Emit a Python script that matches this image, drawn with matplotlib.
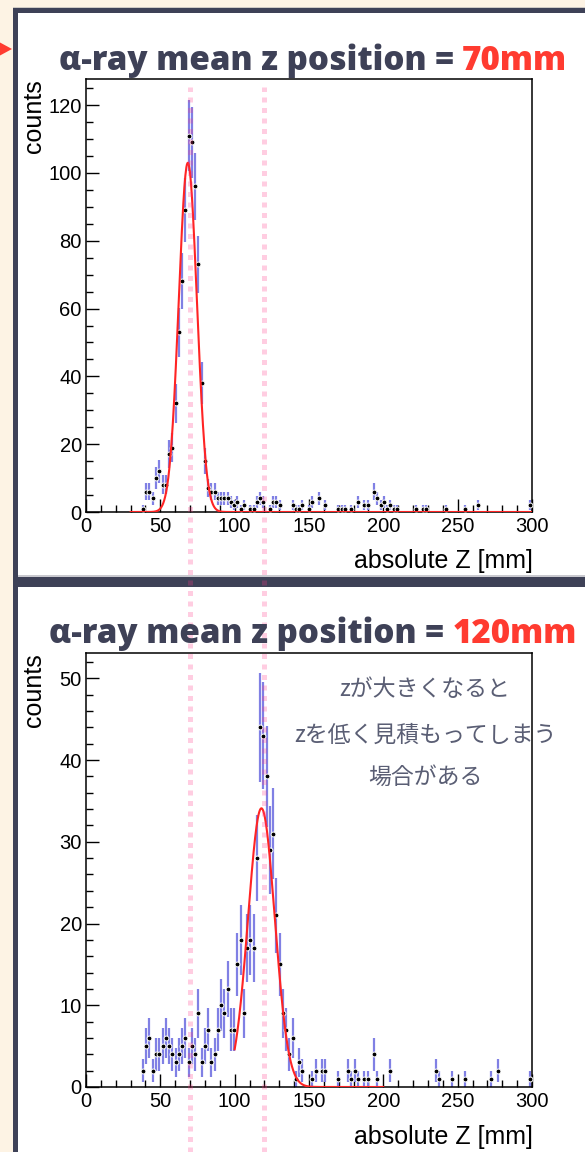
import numpy as np
import matplotlib
matplotlib.use("Agg")
import matplotlib.pyplot as plt
from matplotlib.patches import Rectangle, Polygon
from matplotlib.lines import Line2D
from matplotlib.ticker import MultipleLocator
from matplotlib import transforms

# ---------------------------------------------------------------- data
# histogram binning of the reconstructed |z| (mm)
z_min, z_max, n_bins = 0.0, 300.0, 137

# counts per bin, source at z = 70 mm
counts_70 = [
    0, 0, 0, 0, 0, 0, 0, 0, 0, 0,
    0, 0, 0, 0, 0, 0, 0, 1, 6, 6,
    4, 10, 12, 8, 8, 17, 19, 32, 53, 68,
    89, 111, 109, 96, 73, 38, 15, 7, 6, 6,
    4, 4, 4, 4, 3, 2, 3, 1, 2, 0,
    1, 1, 3, 4, 3, 0, 1, 3, 3, 2,
    0, 0, 0, 2, 1, 1, 2, 0, 1, 3,
    0, 4, 0, 2, 0, 0, 0, 1, 1, 1,
    0, 1, 0, 3, 0, 2, 2, 0, 6, 4,
    2, 3, 1, 2, 1, 1, 0, 0, 0, 0,
    0, 1, 0, 1, 1, 0, 0, 0, 0, 0,
    1, 0, 0, 0, 0, 0, 1, 0, 0, 0,
    2, 0, 0, 0, 0, 0, 0, 0, 0, 0,
    0, 0, 0, 0, 0, 0, 2,
]

# counts per bin, source at z = 120 mm
counts_120 = [
    0, 0, 0, 0, 0, 0, 0, 0, 0, 0,
    0, 0, 0, 0, 0, 0, 0, 2, 5, 6,
    2, 4, 4, 5, 6, 5, 4, 3, 4, 5,
    6, 3, 5, 4, 9, 3, 5, 7, 3, 4,
    7, 10, 9, 12, 7, 7, 15, 18, 9, 17,
    18, 17, 28, 44, 43, 38, 29, 31, 21, 15,
    9, 7, 4, 6, 1, 3, 2, 0, 0, 1,
    2, 0, 2, 2, 0, 0, 0, 1, 0, 0,
    2, 1, 2, 1, 0, 1, 1, 0, 4, 1,
    0, 0, 0, 2, 0, 0, 0, 0, 0, 0,
    0, 0, 0, 0, 0, 0, 0, 2, 1, 0,
    0, 0, 1, 0, 0, 0, 1, 0, 0, 0,
    0, 0, 0, 0, 1, 0, 2, 0, 0, 0,
    0, 0, 0, 0, 0, 0, 1,
]

# gaussian fits: amplitude, mean, sigma, fit range
fit_70 = (103.0, 68.5, 6.1, 30.0, 300.0)
fit_120 = (34.1, 118.0, 9.0, 100.0, 200.0)

# true source positions (mm)
source_z = [70, 120]
title_head = "α-ray mean z position ="
title_values = ["70mm", "120mm"]
note_lines = ["zが大きくなると", "zを低く見積もってしまう", "場合がある"]

# ---------------------------------------------------------------- style
W, H, DPI = 585, 1152, 100
CREAM = "#FDF3E4"
SLATE = "#3E4157"
RED = "#FF3B30"
ERR_BLUE = "#8080E4"
FIT_RED = "#FF2424"
PINK = "#FF3A88"
NOTE = "#5A5E74"
TICK_FONT = ["Liberation Sans", "DejaVu Sans"]
TITLE_FONT = ["Open Sans", "DejaVu Sans"]
TITLE_WIDTH = 509.0  # pixel width of the first title line

plt.rcParams["font.family"] = TICK_FONT

fig = plt.figure(figsize=(W / DPI, H / DPI), dpi=DPI)
fig.patch.set_facecolor(CREAM)


def fx(px):
    return px / W


def fy(py):
    return 1.0 - py / H


# slide frame drawn in pixel coordinates
bg = fig.add_axes([0, 0, 1, 1])
bg.set_xlim(0, W)
bg.set_ylim(H, 0)
bg.axis("off")
bg.set_zorder(-10)


def box(x0, y0, x1, y1, color):
    bg.add_patch(Rectangle((x0, y0), x1 - x0, y1 - y0, color=color, lw=0))


box(12.5, 6.8, W, H, "#CFCAC4")
box(13.3, 7.5, W, H, SLATE)
box(18.3, 12.5, W, 576.0, "white")
box(18.3, 575.2, W, 576.8, "#C9C9CF")
box(18.3, 587.0, W, H, "white")
bg.add_patch(Polygon([(0, 42.5), (12.0, 49.0), (0, 55.5)], closed=True,
                     color=RED, lw=0))

edges = np.linspace(z_min, z_max, n_bins + 1)
centers = 0.5 * (edges[:-1] + edges[1:])


def draw_panel(rect, counts, fit, ymax, ymaj, ymin):
    ax = fig.add_axes(rect)
    ax.set_facecolor("none")
    c = np.asarray(counts, dtype=float)
    m = c > 0
    ax.errorbar(centers[m], c[m], yerr=np.sqrt(c[m]), fmt="none",
                ecolor=ERR_BLUE, elinewidth=1.6, capsize=0, zorder=2)
    ax.plot(centers[m], c[m], "o", ms=3.5, mfc="black", mec="white",
            mew=0.7, zorder=3)
    amp, mu, sig, lo, hi = fit
    xf = np.linspace(lo, hi, 800)
    ax.plot(xf, amp * np.exp(-0.5 * ((xf - mu) / sig) ** 2),
            color=FIT_RED, lw=1.5, zorder=4)
    ax.set_xlim(z_min, z_max)
    ax.set_ylim(0, ymax)
    ax.xaxis.set_major_locator(MultipleLocator(50))
    ax.xaxis.set_minor_locator(MultipleLocator(10))
    ax.yaxis.set_major_locator(MultipleLocator(ymaj))
    ax.yaxis.set_minor_locator(MultipleLocator(ymin))
    ax.tick_params(which="both", direction="in", top=False, right=False,
                   width=1.0, color="black", labelsize=14.5)
    ax.tick_params(which="major", length=9.5)
    ax.tick_params(which="minor", length=4.8)
    ax.tick_params(axis="y", pad=3)
    ax.tick_params(axis="x", pad=3.5)
    for s in ax.spines.values():
        s.set_linewidth(1.1)
        s.set_color("black")
    return ax


ax_top = draw_panel([fx(86), fy(512), fx(446), 433 / H], counts_70, fit_70,
                    127.7, 20, 5)
ax_bot = draw_panel([fx(86), fy(1087), fx(446), 434 / H], counts_120, fit_120,
                    53.1, 10, 2)

for ax, top_px, xlab_px in [(ax_top, 79, 561), (ax_bot, 653, 1137)]:
    fig.text(fx(34), fy(top_px), "counts", rotation=90, ha="center",
             va="top", fontsize=18)
    fig.text(fx(533), fy(xlab_px), "absolute Z [mm]", ha="right",
             va="center", fontsize=18)

# dotted markers of the true source positions, across both panels
trans = transforms.blended_transform_factory(ax_top.transData, fig.transFigure)
for z in source_z:
    fig.add_artist(Line2D([z, z], [0, fy(87)], transform=trans, color=PINK,
                          alpha=0.25, lw=3.6, linestyle=(0, (1, 1.1)),
                          dash_capstyle="butt", zorder=2))

# two-tone titles, sized so the first line spans TITLE_WIDTH pixels
renderer = fig.canvas.get_renderer()


def title_parts(size, value):
    kw = dict(fontsize=size, fontweight="heavy", family=TITLE_FONT,
              va="baseline", ha="left", zorder=3)
    t1 = fig.text(0, 0, title_head, color=SLATE, **kw)
    t2 = fig.text(0, 0, value, color=RED, **kw)
    w1 = t1.get_window_extent(renderer).width
    w2 = t2.get_window_extent(renderer).width
    gap = size * 0.26 * DPI / 72
    return t1, t2, w1, w2, gap


probe = title_parts(20, title_values[0])
title_size = 20 * TITLE_WIDTH / (probe[2] + probe[3] + probe[4])
probe[0].remove()
probe[1].remove()

for value, base_px in zip(title_values, [70, 643]):
    t1, t2, w1, w2, gap = title_parts(title_size, value)
    x0 = 313 - (w1 + gap + w2) / 2
    t1.set_position((fx(x0), fy(base_px)))
    t2.set_position((fx(x0 + w1 + gap), fy(base_px)))

for line, y_px in zip(note_lines, [690, 735, 777]):
    fig.text(fx(425), fy(y_px), line, ha="center", va="center",
             fontsize=16.5, color=NOTE,
             family=["Noto Sans CJK JP", "DejaVu Sans"], zorder=3)

fig.savefig("out.png", dpi=DPI, facecolor=CREAM)
